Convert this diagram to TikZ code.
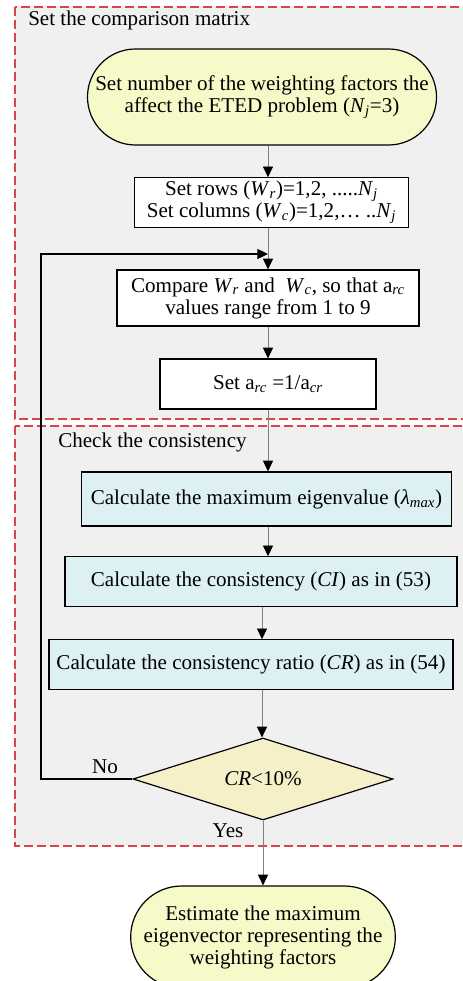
\documentclass[tikz,border=0pt]{standalone}
\usepackage{fontspec}
\setmainfont{Liberation Serif}
\usetikzlibrary{arrows.meta,shapes.geometric,shapes.misc}
\definecolor{zoneline}{HTML}{D8434C}
\definecolor{zonefill}{HTML}{F0F0F0}
\definecolor{termfill}{HTML}{F5FAC8}
\definecolor{calcfill}{HTML}{DDF0F4}
\definecolor{testfill}{HTML}{F6F0C8}
\definecolor{wire}{HTML}{808080}
\newcommand{\vsub}[2]{\textit{#1}\textsubscript{\textit{#2}}}
\tikzset{
  nodebase/.style={draw=black, line width=0.9pt, align=center, inner sep=2pt,
              font=\fontsize{15.8}{16.5}\selectfont},
  termbox/.style={nodebase, rounded rectangle, fill=termfill},
  procbox/.style={nodebase, rectangle, fill=white},
  calcbox/.style={nodebase, rectangle, fill=calcfill},
  testbox/.style={nodebase, diamond, fill=testfill, aspect=3.2, inner sep=0pt},
  zone/.style={draw=zoneline, fill=zonefill, line width=1.3pt, dash pattern=on 6.75pt off 3pt},
  zonelbl/.style={anchor=west, inner sep=0pt, font=\fontsize{15.8}{16.5}\selectfont},
  lbl/.style={inner sep=0pt, font=\fontsize{15.8}{16.5}\selectfont},
  flow/.style={-{Triangle[length=8pt,width=7.5pt,color=black]}, draw=wire, line width=0.6pt},
  backflow/.style={-{Triangle[length=8pt,width=7.5pt]}, draw=black, line width=0.9pt}
}
\begin{document}
\begin{tikzpicture}[x=0.75pt, y=-0.75pt]
  \useasboundingbox (0,0) rectangle (463,981);
  % the two zones
  \draw[zone] (15,7) rectangle (475,419);
  \draw[zone] (15,426) rectangle (475,846);
  \node[zonelbl] (ztop) at (28,20) {Set the comparison matrix};
  \node[zonelbl] (zbot) at (58,442) {Check the consistency};
  % spines for the arrows
  \coordinate (spine) at (268,0);
  \coordinate (spinelow) at (262,0);
  \coordinate (loopx) at (41,0);
  \coordinate (join) at (268,254);
  \node[termbox, minimum width=257pt, minimum height=72pt] (start) at (262,97)
   {Set number of the weighting factors the\\affect the ETED problem (\vsub{N}{j}=3)};
  \node[procbox, minimum width=206pt, minimum height=37pt] (rows) at (271.5,202.5)
   {Set rows (\vsub{W}{r})=1,2, .....\vsub{N}{j}\\Set columns (\vsub{W}{c})=1,2,… ..\vsub{N}{j}};
  \node[procbox, minimum width=226.5pt, minimum height=42pt] (cmp) at (268,298)
   {Compare \vsub{W}{r} and~ \vsub{W}{c}, so that a\textsubscript{\textit{rc}}\\values range from 1 to 9};
  \node[procbox, minimum width=162pt, minimum height=37.5pt] (recip) at (268,384)
   {Set a\textsubscript{\textit{rc}} =1/a\textsubscript{\textit{cr}}};
  \node[calcbox, minimum width=278pt, minimum height=40.5pt] (eig) at (266.5,499)
   {Calculate the maximum eigenvalue (\vsub{λ}{max})};
  \node[calcbox, minimum width=294pt, minimum height=37pt] (ci) at (261,581.5)
   {Calculate the consistency (\textit{CI}) as in (53)};
  \node[calcbox, minimum width=303pt, minimum height=37pt] (cr) at (251,664.5)
   {Calculate the consistency ratio (\textit{CR}) as in (54)};
  \node[testbox, minimum width=195pt, minimum height=61.5pt] (test) at (263,779)
   {\textit{CR}<10\%};
  \node[termbox, minimum width=202.5pt, minimum height=76.5pt] (done) at (263,937)
   {Estimate the maximum\\eigenvector representing the\\weighting factors};
  \draw[flow] (start.south -| spine) -- (rows.north -| spine);
  \draw[flow] (rows.south -| spine) -- (cmp.north -| spine);
  \draw[flow] (cmp.south -| spine) -- (recip.north -| spine);
  \draw[flow] (recip.south -| spine) -- (eig.north -| spine);
  \draw[flow] (eig.south -| spine) -- (ci.north -| spine);
  \draw[flow] (ci.south -| spinelow) -- (cr.north -| spinelow);
  \draw[flow] (cr.south -| spinelow) -- (test.north -| spinelow);
  \draw[flow] (test.south) -- (done.north -| test.south);
  \draw[backflow] (test.west) -- (test.west -| loopx) |- (join);
  \node[lbl] (nolbl) at (105,767) {No};
  \node[lbl] (yeslbl) at (228,831) {Yes};
\end{tikzpicture}
\end{document}
